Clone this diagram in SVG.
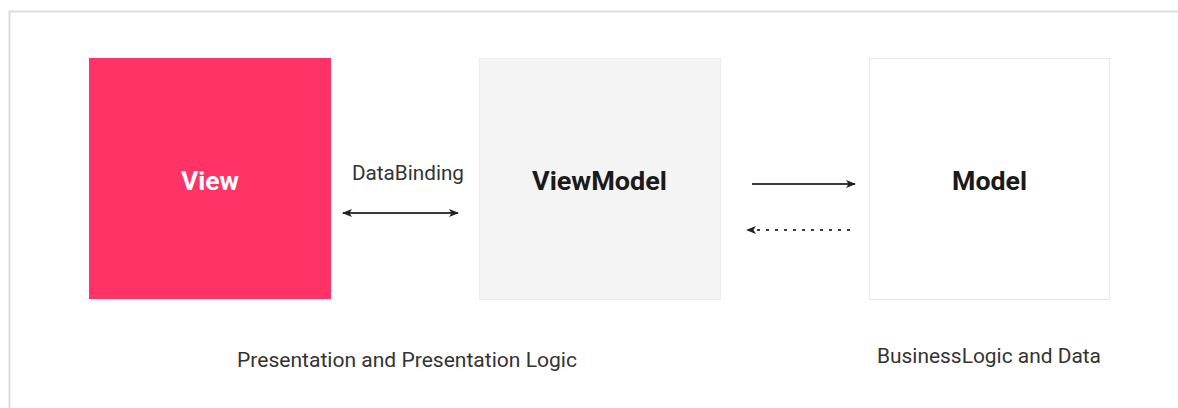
<svg xmlns="http://www.w3.org/2000/svg" width="1178" height="408" viewBox="0 0 1178 408">
  <defs>
    <style>
      .lbl { font-family: Roboto, "Liberation Sans", sans-serif; fill: #333; font-size: 20px; }
      .title { font-family: Roboto, "Liberation Sans", sans-serif; font-weight: bold; font-size: 25px; text-anchor: middle; }
      .conn { stroke: #3a3a3a; stroke-width: 2; fill: none; }
    </style>
    <marker id="head" viewBox="0 0 10 10" refX="9" refY="5" markerWidth="13" markerHeight="10" markerUnits="userSpaceOnUse" orient="auto-start-reverse">
      <path d="M0,1 L10,5 L0,9 L2.5,5 Z" fill="#222"/>
    </marker>
  </defs>

  <rect width="1178" height="408" fill="#fff"/>
  <!-- outer frame, open to the right and bottom -->
  <rect x="9.5" y="11.5" width="1200" height="420" fill="none" stroke="#dcdcdc" stroke-width="2"/>

  <g id="view">
    <rect x="89" y="58" width="242" height="241" fill="#ff3366"/>
    <text class="title" x="210" y="190" fill="#fff" textLength="58" lengthAdjust="spacingAndGlyphs">View</text>
  </g>

  <g id="viewmodel">
    <rect x="479.5" y="58.5" width="241" height="241" fill="#f4f4f4" stroke="#ececec"/>
    <text class="title" x="599.5" y="190" fill="#1a1a1a" textLength="135" lengthAdjust="spacingAndGlyphs">ViewModel</text>
  </g>

  <g id="model">
    <rect x="869.5" y="58.5" width="240" height="241" fill="#fff" stroke="#e8e8e8"/>
    <text class="title" x="989.5" y="190" fill="#1a1a1a" textLength="75" lengthAdjust="spacingAndGlyphs">Model</text>
  </g>

  <g id="connectors">
    <line class="conn" x1="343" y1="213" x2="458" y2="213" marker-start="url(#head)" marker-end="url(#head)"/>
    <line class="conn" x1="752" y1="184" x2="855" y2="184" marker-end="url(#head)"/>
    <line class="conn" x1="850" y1="230" x2="747" y2="230" stroke-dasharray="3 6" stroke="#666" marker-end="url(#head)"/>
    <text class="lbl" x="408" y="180" text-anchor="middle" textLength="112" lengthAdjust="spacingAndGlyphs">DataBinding</text>
  </g>

  <g id="captions">
    <text class="lbl" x="407" y="367" text-anchor="middle" textLength="340" lengthAdjust="spacingAndGlyphs">Presentation and Presentation Logic</text>
    <text class="lbl" x="989" y="363" text-anchor="middle" textLength="224" lengthAdjust="spacingAndGlyphs">BusinessLogic and Data</text>
  </g>
</svg>
